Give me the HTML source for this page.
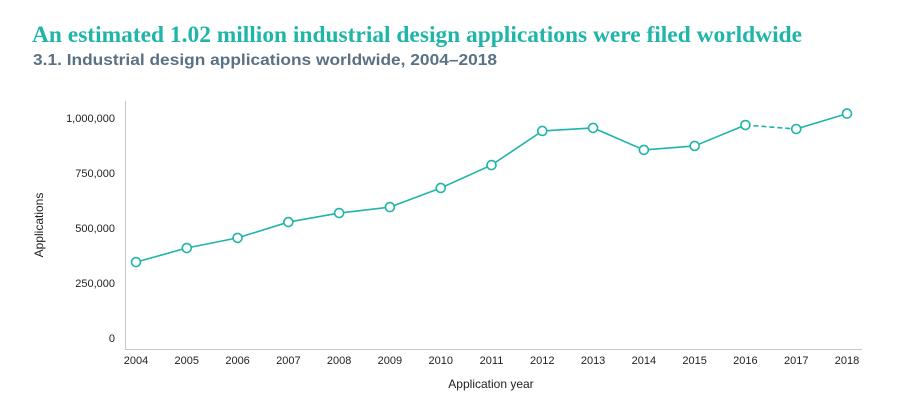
<!DOCTYPE html>
<html><head><meta charset="utf-8"><style>
body{margin:0;width:911px;height:405px;background:#fff;overflow:hidden}
svg{display:block}
</style></head><body>
<svg width="911" height="405">
<text x="32" y="42" textLength="770" lengthAdjust="spacingAndGlyphs" font-family="Liberation Serif, serif" font-weight="bold" font-size="23" fill="#1fb5a8">An estimated 1.02 million industrial design applications were filed worldwide</text>
<text x="33" y="65" textLength="464" lengthAdjust="spacingAndGlyphs" font-family="Liberation Sans, sans-serif" font-weight="bold" font-size="16" fill="#5a7184">3.1. Industrial design applications worldwide, 2004–2018</text>
<line x1="125.5" y1="101" x2="125.5" y2="349" stroke="#c8c8c8"/>
<line x1="125" y1="349.5" x2="862" y2="349.5" stroke="#c8c8c8"/>
<text transform="translate(43,225) rotate(-90)" text-anchor="middle" font-family="Liberation Sans, sans-serif" font-size="12" fill="#222">Applications</text>
<text x="491" y="388" text-anchor="middle" font-family="Liberation Sans, sans-serif" font-size="12" fill="#222">Application year</text>
<g id="yt"></g><g id="xt"></g><g id="lines"></g><g id="pts"></g>
</svg>
<script>
const years=[2004,2005,2006,2007,2008,2009,2010,2011,2012,2013,2014,2015,2016,2017,2018];
const applications=[345000,409000,455000,527000,568000,595000,682000,786000,941000,955000,855000,873000,968000,950000,1020000];
const yTicks=[0,250000,500000,750000,1000000];
const NS="http://www.w3.org/2000/svg";
const xs=i=>136+i*(847-136)/14;
const ys=v=>338-v*220/1000000;
function mk(t,a){const e=document.createElementNS(NS,t);for(const k in a)e.setAttribute(k,a[k]);return e;}
const yt=document.getElementById('yt'),xt=document.getElementById('xt'),ln=document.getElementById('lines'),pt=document.getElementById('pts');
yTicks.forEach(v=>{const t=mk('text',{x:115,y:ys(v)+4,'text-anchor':'end','font-family':'Liberation Sans, sans-serif','font-size':11,fill:'#222'});


t.textContent=v.toLocaleString('en-US');yt.appendChild(t);});
years.forEach((y,i)=>{const t=mk('text',{x:xs(i),y:364,'text-anchor':'middle','font-family':'Liberation Sans, sans-serif','font-size':11,fill:'#222'});


t.textContent=y;xt.appendChild(t);});
for(let i=0;i<years.length-1;i++){const l=mk('line',{x1:xs(i),y1:ys(applications[i]),x2:xs(i+1),y2:ys(applications[i+1]),stroke:'#1fb5a8','stroke-width':1.6});
if(i===12)l.setAttribute('stroke-dasharray','5,3');


ln.appendChild(l);}
applications.forEach((v,i)=>{const c=mk('circle',{cx:xs(i),cy:ys(v),r:4.5,fill:'#fff',stroke:'#1fb5a8','stroke-width':1.6});


pt.appendChild(c);});
</script>
</body></html>
